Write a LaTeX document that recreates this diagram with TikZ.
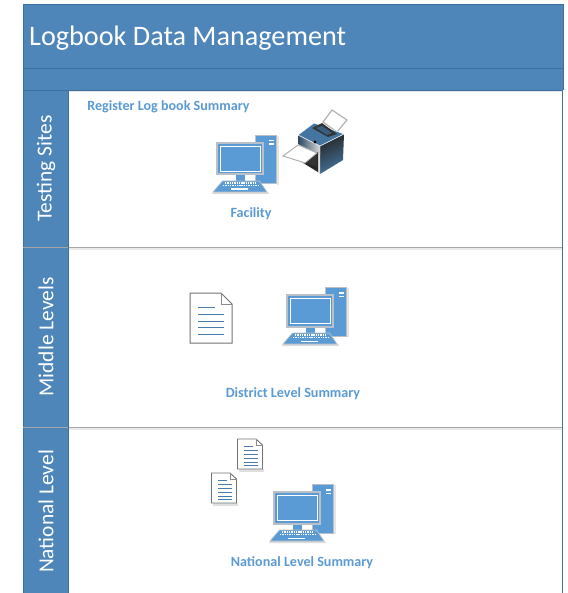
\documentclass[tikz,border=0pt]{standalone}
\usepackage{fontspec}
\setmainfont{Carlito}
\usetikzlibrary{shadows}
\definecolor{band}{HTML}{4F86BA}
\definecolor{bandline}{HTML}{3F6F9F}
\definecolor{pcblue}{HTML}{5B9BD5}
\definecolor{pcgrey}{HTML}{B9C0C8}
\definecolor{labelblue}{HTML}{5B9BD5}
\tikzset{
  x=1pt,y=-1pt,
  title text/.style={text=white,font=\fontsize{28.2}{30}\selectfont,anchor=west,inner sep=0pt},
  lane text/.style={text=white,font=\fontsize{21.4}{24}\selectfont,rotate=90,inner sep=0pt},
  small label/.style={text=labelblue,font=\bfseries\fontsize{14.1}{16}\selectfont,inner sep=0pt},
  lane line/.style={draw=bandline,line width=.9pt},
  grey line/.style={draw=black!35,line width=.9pt},
  docline/.style={draw=pcblue!80!black,line width=1pt},
  computer/.pic={
    % shadow
    \fill[black!14] (-32,32) -- (23,32) -- (24,34) -- (-33,34) -- cycle;
    \fill[black!10] (32,-24) rectangle (33.5,25);
    % tower
    \fill[pcblue,draw=pcgrey,line width=1pt] (10.5,-24.5) rectangle (31,24);
    \fill[white] (24,-20) rectangle (28.5,-18.5);
    \fill[white] (24,-16.5) rectangle (28.5,-15);
    % monitor
    \fill[pcblue,draw=pcgrey,line width=2pt] (-28,-17) rectangle (18,14.5);
    \draw[white,line width=.9pt] (-25,-14) rectangle (15,11.5);
    \fill[pcblue] (-9,15.5) rectangle (0,21);
    % keyboard
    \fill[pcblue,draw=pcgrey,line width=.7pt] (-22.5,21) -- (14.5,21) -- (22,32) -- (-32,32) -- cycle;
    \foreach \yy/\a/\b in {23/-20/11,25.5/-22/13}
      \draw[white,line width=1.2pt,dash pattern=on 1.4pt off .9pt] (\a,\yy) -- (\b,\yy);
    \fill[white] (-14,28.5) rectangle (3,30);
  },
  bigdoc/.pic={
    \fill[white,draw=black!55,line width=1pt] (-21,-26) -- (10,-26) -- (21,-15) -- (21,24) -- (-21,24) -- cycle;
    \draw[black!45,line width=.6pt] (10,-26) -- (10,-15) -- (21,-15);
    \draw[docline] (-13,-12) -- (4,-12);
    \foreach \yy in {-5,2,8,15} \draw[docline] (-13,\yy) -- (13,\yy);
  },
  smalldoc/.pic={
    \fill[black!12] (-11,15) rectangle (14,18);
    \fill[white,draw=black!55,line width=.9pt] (-12.5,-15) -- (6,-15) -- (12.5,-9) -- (12.5,15) -- (-12.5,15) -- cycle;
    \draw[black!45,line width=.5pt] (6,-15) -- (6,-9) -- (12.5,-9);
    \draw[docline] (-6,-8) -- (3,-8);
    \foreach \yy in {-4,0,4,8,11} \draw[docline] (-6,\yy) -- (8,\yy);
  },
}
\begin{document}
\begin{tikzpicture}
\useasboundingbox (0,0) rectangle (567,593);
\fill[white] (0,0) rectangle (567,593);
% frame and bands
\fill[band] (23,4) rectangle (563,90);
\fill[band] (23,90) rectangle (68,593);
\fill[black!10] (69,91) rectangle (562,92.5);
\fill[black!8] (69,248) rectangle (562,249.5);
\fill[black!8] (69,428) rectangle (562,429.5);
\draw[lane line] (23,593) -- (23,4) -- (563,4) -- (563,90);
\draw[lane line] (562,90) -- (562,593);
\draw[lane line] (23,68) -- (563,68);
\draw[lane line] (23,90) -- (563,90);
\draw[grey line] (23,247) -- (562,247);
\draw[grey line] (23,427) -- (562,427);
\draw[bandline,line width=.5pt] (68,90) -- (68,593);
% text
\node[title text] (title) at (29,38) {Logbook Data Management};
\node[lane text] (laneA) at (46,168.5) {Testing Sites};
\node[lane text] (laneB) at (46,337) {Middle Levels};
\node[lane text] (laneC) at (46,511.5) {National Level};
\node[small label] (register) at (168.5,107) {Register Log book Summary};
\node[small label] (facility) at (251,214) {Facility};
\node[small label] (district) at (293,394) {District Level Summary};
\node[small label] (national) at (302,563) {National Level Summary};
% icons
\pic at (245,160) {computer};
\pic at (315,312) {computer};
\pic at (302,509) {computer};
\pic at (211,319) {bigdoc};
\pic at (250,454) {smalldoc};
\pic at (224,488) {smalldoc};
% printer
\begin{scope}
% back paper
\fill[white,draw=black!30,line width=1.2pt] (323,122) -- (332,110) -- (347,120) -- (337,132) -- cycle;
% right face
\shade[left color=black!85,right color=pcblue!75!black,shading angle=25] (320,146) -- (344,134) -- (343,160) -- (320,174) -- cycle;
% left face
\fill[black!12] (298,135) -- (320,146) -- (320,174) -- (300,161) -- cycle;
\shade[left color=pcblue!45!black,right color=black!15] (298,135) -- (320,146) -- (320,155) -- (298,144) -- cycle;
% top face
\fill[pcblue!75!black,draw=white,line width=.5pt] (298,135) -- (314,123) -- (344,134) -- (320,146) -- cycle;
\fill[black!80] (312,128) -- (322,123) -- (337,134) -- (328,137) -- cycle;
\fill[pcblue!60!black] (316,128) -- (322,126) -- (332,133) -- (327,135) -- cycle;
\fill[black] (315,142) circle (1.6);
% tray and dark slot
\fill[black!85] (300,161) -- (318,152) -- (318,172) -- cycle;
\fill[white,draw=black!30,line width=1pt] (283,156) -- (298,145) -- (317,153) -- (305,163) -- cycle;
\fill[black!80] (306,163) -- (317,154) -- (317,167) -- cycle;
\end{scope}
\end{tikzpicture}
\end{document}
